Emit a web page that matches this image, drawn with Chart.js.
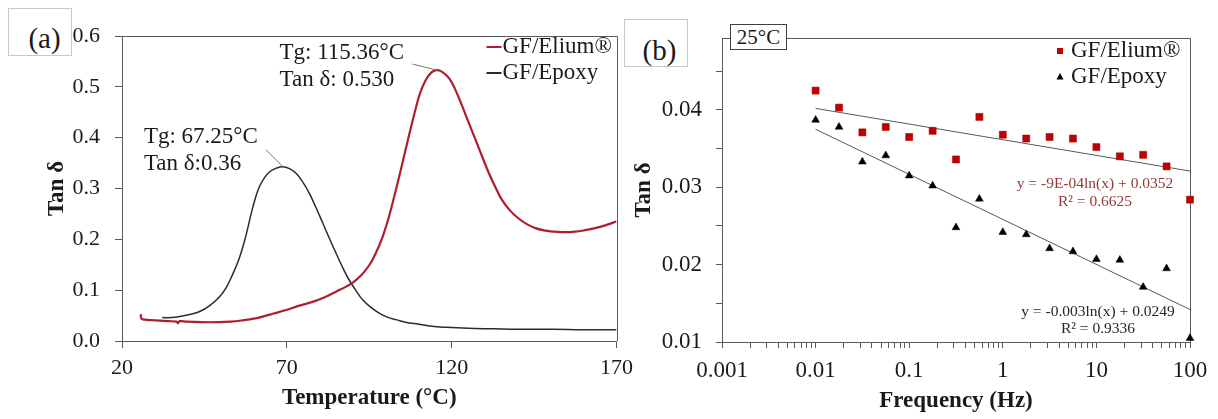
<!DOCTYPE html>
<html lang="en">
<head>
<meta charset="UTF-8">
<title>Tan δ – GF/Elium® vs GF/Epoxy</title>
<script src="https://cdn.jsdelivr.net/npm/chart.js"></script>
<style>
  html, body { margin: 0; padding: 0; background: #fff; }
  body { width: 1218px; height: 419px; position: relative; overflow: hidden;
         font-family: "Liberation Serif", "Times New Roman", serif; color: #1a1a1a; }
  .wrap { position: absolute; top: 0; height: 419px; }
  #wrapA { left: 0; width: 640px; }
  #wrapB { left: 600px; width: 618px; }
  .tag { position: absolute; box-sizing: border-box; background: #fff;
         display: flex; align-items: center; justify-content: center; line-height: 1; }
  .panel { border: 1px solid #c8c8c8; font-size: 29px; }
  #tagA { left: 8px; top: 8px; width: 64px; height: 48px; padding: 12px 0 0 9px; }
  #tagB { left: 624px; top: 19px; width: 64px; height: 48px; padding: 14px 0 0 7px; }
  #temp { left: 730px; top: 24px; width: 57px; height: 26px; border: 1px solid #404040; font-size: 21px; padding-top: 1px; }
</style>
</head>
<body>
  <div class="wrap" id="wrapA"><canvas id="chartA"></canvas></div>
  <div class="wrap" id="wrapB"><canvas id="chartB"></canvas></div>
  <div class="tag panel" id="tagA">(a)</div>
  <div class="tag panel" id="tagB">(b)</div>
  <div class="tag" id="temp">25°C</div>

<script>
  // ---- (a) tan delta vs temperature ----
  const elT = [25.7, 25.9, 27, 29, 31.5, 34, 36.5, 37, 37.5, 39.6, 44, 49, 53, 57, 60, 62.7, 66, 69.8, 73.5, 77.8,
    81.5, 84.9, 88, 90, 92.5, 95, 97, 99, 101, 103, 105, 107, 109, 110.5, 112.1, 113.8, 115.4, 117, 119.2, 121,
    123.2, 125.2, 127.3, 129.3, 131.3, 133.3, 135.3, 137.8, 140.3, 142.8, 145.4, 148.4, 151.4, 154.4, 157.5, 160.5,
    163.5, 166.8, 170];
  const elTan = [0.053, 0.044, 0.042, 0.041, 0.040, 0.039, 0.038, 0.035, 0.039, 0.038, 0.037, 0.037, 0.038, 0.041,
    0.044, 0.048, 0.054, 0.061, 0.069, 0.077, 0.086, 0.097, 0.107, 0.115, 0.129, 0.149, 0.173, 0.204, 0.245, 0.295,
    0.348, 0.403, 0.455, 0.489, 0.513, 0.528, 0.533, 0.530, 0.517, 0.496, 0.462, 0.429, 0.395, 0.362, 0.330, 0.302,
    0.277, 0.256, 0.241, 0.230, 0.222, 0.217, 0.215, 0.214, 0.215, 0.218, 0.222, 0.228, 0.235];

  const epT = [32.2, 35, 37.5, 40.5, 43.6, 46.5, 49.6, 51.7, 53.7, 55.3, 56.7, 58, 59.2, 60.4, 61.7, 63.2, 64.8,
    66.8, 68.8, 70.8, 72.8, 74.8, 76.8, 78.8, 80.9, 82.9, 84.9, 86.9, 88.9, 91, 93, 95.5, 98, 100.5, 103.1, 106,
    110, 114, 118.2, 125, 132.6, 140, 150.5, 160, 170];
  const epTan = [0.046, 0.046, 0.048, 0.052, 0.058, 0.069, 0.087, 0.106, 0.133, 0.158, 0.186, 0.218, 0.251, 0.280,
    0.304, 0.321, 0.333, 0.340, 0.343, 0.339, 0.330, 0.313, 0.291, 0.263, 0.232, 0.202, 0.173, 0.145, 0.120, 0.099,
    0.081, 0.066, 0.055, 0.047, 0.042, 0.037, 0.033, 0.029, 0.027, 0.025, 0.024, 0.023, 0.023, 0.022, 0.022];

  const tempTicks = ['20', '70', '120', '170'];
  const tanTicksA = ['0.0', '0.1', '0.2', '0.3', '0.4', '0.5', '0.6'];
  const tgText = ['Tg: 115.36°C', 'Tg: 67.25°C'];
  const tanText = ['Tan δ: 0.530', 'Tan δ:0.36'];

  // ---- (b) tan delta vs frequency at 25°C ----
  const freq = [0.01, 0.0178, 0.0316, 0.0562, 0.1, 0.178, 0.316, 0.562, 1, 1.78, 3.16, 5.62, 10, 17.8, 31.6, 56.2, 100];
  const elTanF = [0.0425, 0.0403, 0.0371, 0.0378, 0.0365, 0.0373, 0.0336, 0.0391, 0.0368, 0.0363, 0.0365, 0.0363,
    0.0352, 0.0340, 0.0342, 0.0327, 0.0284];
  const epTanF = [0.0387, 0.0378, 0.0333, 0.0341, 0.0315, 0.0302, 0.0248, 0.0285, 0.0242, 0.0239, 0.0221, 0.0217,
    0.0207, 0.0206, 0.0171, 0.0195, 0.0105];

  // trend lines (straight on a log axis), end values
  const fitX = [0.01, 100];
  const elFit = [0.0402, 0.0321];
  const epFit = [0.0375, 0.0142];
  const elEq = ['y = -9E-04ln(x) + 0.0352', 'R² = 0.6625'];
  const epEq = ['y = -0.003ln(x) + 0.0249', 'R² = 0.9336'];

  const freqTicks = ['0.001', '0.01', '0.1', '1', '10', '100'];
  const tanTicksB = ['0.01', '0.02', '0.03', '0.04'];

  const serif = '"Liberation Serif", "Times New Roman", serif';
  const axisCol = '#595959';
  const txtCol = '#1a1a1a';
  const redLine = '#b01e2e';
  const blackLine = '#2b2b2b';

  Chart.defaults.font.family = serif;
  Chart.defaults.color = txtCol;

  const pts = (xs, ys) => xs.map((v, i) => ({ x: v, y: ys[i] }));

  function axisLines(len) {
    return {
      grid: { display: true, drawOnChartArea: false, drawTicks: true, tickLength: len, color: axisCol, lineWidth: 1 },
      border: { display: true, color: axisCol, width: 1 }
    };
  }

  // label only the values that are in a label list
  function labelFrom(list) {
    const nums = list.map(Number);
    return v => {
      const i = nums.findIndex(n => Math.abs(n - v) <= Math.abs(n) * 1e-6 + 1e-12);
      return i >= 0 ? list[i] : '';
    };
  }

  // top and right side of the plot box
  const frame = {
    id: 'frame',
    beforeDatasetsDraw(chart) {
      const { ctx, chartArea: a } = chart;
      const t = Math.round(a.top) + 0.5, r = Math.round(a.right) + 0.5;
      ctx.save();
      ctx.strokeStyle = axisCol;
      ctx.lineWidth = 1;
      ctx.beginPath();
      ctx.moveTo(a.left, t);
      ctx.lineTo(r, t);
      ctx.lineTo(r, a.bottom);
      ctx.stroke();
      ctx.restore();
    }
  };

  // Tg notes with leader line to each peak
  const noteSpots = [
    { dx: -157, dy1: -17, dy2: 10, lx: -24, ly: -6 },
    { dx: -139, dy1: -30, dy2: -3, lx: -17, ly: -17 }
  ];
  const peakNotes = {
    id: 'peakNotes',
    afterDatasetsDraw(chart) {
      const { ctx, scales: { x, y } } = chart;
      ctx.save();
      ctx.font = '23px ' + serif;
      ctx.textBaseline = 'middle';
      ctx.textAlign = 'left';
      chart.data.datasets.forEach((ds, i) => {
        const pk = ds.data.reduce((m, p) => (p.y > m.y ? p : m));
        const px = x.getPixelForValue(pk.x), py = y.getPixelForValue(pk.y);
        const s = noteSpots[i];
        ctx.strokeStyle = '#7a7a7a';
        ctx.lineWidth = 1;
        ctx.beginPath();
        ctx.moveTo(px + s.lx, py + s.ly);
        ctx.lineTo(px, py);
        ctx.stroke();
        ctx.fillStyle = txtCol;
        ctx.fillText(tgText[i], px + s.dx, py + s.dy1);
        ctx.fillText(tanText[i], px + s.dx, py + s.dy2);
      });
      ctx.restore();
    }
  };

  const legendA = {
    id: 'legendA',
    afterDraw(chart) {
      const { ctx, chartArea: a } = chart;
      ctx.save();
      ctx.font = '23px ' + serif;
      ctx.textBaseline = 'middle';
      chart.data.datasets.forEach((ds, i) => {
        const y = a.top + 11 + i * 26;
        ctx.strokeStyle = ds.borderColor;
        ctx.lineWidth = 2;
        ctx.beginPath();
        ctx.moveTo(a.right - 130, y);
        ctx.lineTo(a.right - 115, y);
        ctx.stroke();
        ctx.fillStyle = txtCol;
        ctx.fillText(ds.label, a.right - 114, y);
      });
      ctx.restore();
    }
  };

  const legendB = {
    id: 'legendB',
    afterDraw(chart) {
      const { ctx, chartArea: a } = chart;
      ctx.save();
      ctx.font = '23px ' + serif;
      ctx.textBaseline = 'middle';
      chart.data.datasets.filter(ds => ds.pointStyle).forEach((ds, i) => {
        const y = a.top + 13 + i * 26;
        const mx = a.right - 130;
        ctx.fillStyle = ds.backgroundColor;
        if (ds.pointStyle === 'rect') {
          ctx.fillRect(mx - 3, y - 3, 6, 6);
        } else {
          ctx.beginPath();
          ctx.moveTo(mx, y - 4);
          ctx.lineTo(mx + 3.5, y + 2.5);
          ctx.lineTo(mx - 3.5, y + 2.5);
          ctx.closePath();
          ctx.fill();
        }
        ctx.fillStyle = txtCol;
        ctx.fillText(ds.label, a.right - 119, y);
      });
      ctx.restore();
    }
  };

  const equations = {
    id: 'equations',
    afterDatasetsDraw(chart) {
      const { ctx, chartArea: a } = chart;
      ctx.save();
      ctx.font = '15.5px ' + serif;
      ctx.textAlign = 'center';
      ctx.textBaseline = 'middle';
      ctx.fillStyle = '#953735';
      ctx.fillText(elEq[0], a.right - 95, a.top + 146);
      ctx.fillText(elEq[1], a.right - 95, a.top + 164);
      ctx.fillStyle = '#262626';
      ctx.fillText(epEq[0], a.right - 92, a.top + 274);
      ctx.fillText(epEq[1], a.right - 92, a.top + 291);
      ctx.restore();
    }
  };

  new Chart(document.getElementById('chartA'), {
    type: 'line',
    data: {
      datasets: [
        { label: 'GF/Elium®', data: pts(elT, elTan), borderColor: redLine, borderWidth: 2.2,
          pointRadius: 0, tension: 0.4, fill: false },
        { label: 'GF/Epoxy', data: pts(epT, epTan), borderColor: blackLine, borderWidth: 1.5,
          pointRadius: 0, tension: 0.4, fill: false }
      ]
    },
    options: {
      responsive: true,
      maintainAspectRatio: false,
      animation: false,
      layout: { padding: { top: 36, right: 22, bottom: 0, left: 0 } },
      plugins: { legend: { display: false }, tooltip: { enabled: false } },
      scales: {
        x: {
          type: 'linear', min: 20, max: 170,
          afterBuildTicks(s) { s.ticks = tempTicks.map(v => ({ value: Number(v) })); },
          ticks: { padding: 7, maxRotation: 0, autoSkip: false, font: { size: 22 }, callback: labelFrom(tempTicks) },
          title: { display: true, text: 'Temperature (°C)', font: { size: 23, weight: 'bold' }, padding: { top: 0, bottom: 7 } },
          ...axisLines(7),
          afterFit(s) { s.height = 78; }
        },
        y: {
          type: 'linear', min: 0, max: 0.6,
          afterBuildTicks(s) { s.ticks = tanTicksA.map(v => ({ value: Number(v) })); },
          ticks: { padding: 15, font: { size: 22 }, callback: labelFrom(tanTicksA) },
          title: { display: true, text: 'Tan δ', font: { size: 23, weight: 'bold' }, padding: { top: 43, bottom: 0 } },
          ...axisLines(7),
          afterFit(s) { s.width = 122; }
        }
      }
    },
    plugins: [frame, peakNotes, legendA]
  });

  // every 1..9 step of each decade on the log axis
  const logTicks = [];
  freqTicks.map(Number).forEach((d, k, arr) => {
    if (k === arr.length - 1) { logTicks.push(d); return; }
    for (let m = 1; m <= 9; m++) logTicks.push(Number((m * d).toPrecision(6)));
  });
  const yTicksB = [];
  tanTicksB.map(Number).forEach(v => { yTicksB.push(v, Number((v + 0.005).toFixed(4))); });

  new Chart(document.getElementById('chartB'), {
    type: 'scatter',
    data: {
      datasets: [
        { label: 'fit Elium', data: pts(fitX, elFit), showLine: true, borderColor: axisCol, borderWidth: 1,
          pointRadius: 0, order: 2 },
        { label: 'fit Epoxy', data: pts(fitX, epFit), showLine: true, borderColor: axisCol, borderWidth: 1,
          pointRadius: 0, order: 2 },
        { label: 'GF/Elium®', data: pts(freq, elTanF), pointStyle: 'rect', pointRadius: 5,
          backgroundColor: '#c00000', borderColor: '#a00000', borderWidth: 0.5, order: 1, clip: false },
        { label: 'GF/Epoxy', data: pts(freq, epTanF), pointStyle: 'triangle', pointRadius: 4.5,
          backgroundColor: '#000000', borderColor: '#000000', borderWidth: 0.5, order: 1, clip: false }
      ]
    },
    options: {
      responsive: true,
      maintainAspectRatio: false,
      animation: false,
      layout: { padding: { top: 38, right: 28, bottom: 0, left: 0 } },
      plugins: { legend: { display: false }, tooltip: { enabled: false } },
      scales: {
        x: {
          type: 'logarithmic', min: 0.001, max: 100,
          afterBuildTicks(s) { s.ticks = logTicks.map(v => ({ value: v })); },
          ticks: { padding: 9, maxRotation: 0, autoSkip: false, font: { size: 23 }, callback: labelFrom(freqTicks) },
          title: { display: true, text: 'Frequency (Hz)', font: { size: 23, weight: 'bold' }, padding: { top: 0, bottom: 4 } },
          ...axisLines(6),
          afterFit(s) { s.height = 77; }
        },
        y: {
          type: 'linear', min: 0.01, max: 0.0493,
          afterBuildTicks(s) { s.ticks = yTicksB.map(v => ({ value: v })); },
          ticks: { padding: 14, font: { size: 23 }, callback: labelFrom(tanTicksB) },
          title: { display: true, text: 'Tan δ', font: { size: 23, weight: 'bold' }, padding: { top: 30, bottom: 0 } },
          ...axisLines(6),
          afterFit(s) { s.height; s.width = 122; }
        }
      }
    },
    plugins: [frame, legendB, equations]
  });
</script>
</body>
</html>
